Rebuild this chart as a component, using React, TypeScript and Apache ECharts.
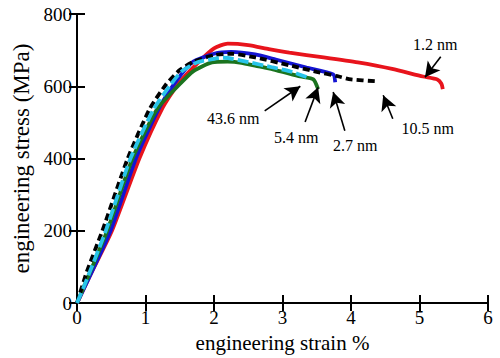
import React, { useEffect, useRef } from "react";
import * as echarts from "echarts";

const red12: [number, number][] = [
  [0, 0], [0.2, 80], [0.51, 200], [0.91, 400], [1.24, 537], [1.47, 605], [1.77, 666],
  [2.0, 705], [2.2, 718], [2.5, 714], [2.8, 703], [3.1, 693], [3.6, 680], [4.1, 666], [4.6, 648],
  [5.05, 627], [5.26, 619], [5.32, 607], [5.34, 592],
];
const blue27: [number, number][] = [
  [0, 0], [0.2, 80], [0.49, 200], [0.86, 400], [1.2, 540], [1.45, 615], [1.68, 666],
  [2.0, 690], [2.25, 695], [2.6, 688], [2.9, 674], [3.35, 652], [3.74, 633], [3.77, 611],
];
const green436: [number, number][] = [
  [0, 0], [0.1, 45], [0.44, 200], [0.81, 400], [1.17, 537], [1.47, 600], [1.7, 642], [1.97, 666],
  [2.2, 668], [2.4, 665], [2.6, 657], [2.86, 647], [3.26, 627], [3.45, 619], [3.52, 592],
];
const black105: [number, number][] = [
  [0, 0], [0.14, 85], [0.37, 200], [0.74, 400], [1.06, 537], [1.3, 605], [1.5, 645], [1.7, 668],
  [2.0, 686], [2.25, 690], [2.6, 680], [3.1, 658], [3.5, 640], [3.8, 628], [4.0, 619], [4.35, 614],
];
const cyan54: [number, number][] = [
  [0, 0], [0.1, 45], [0.42, 200], [0.78, 400], [1.12, 537], [1.35, 600], [1.52, 640], [1.75, 666],
  [2.0, 676], [2.15, 679], [2.5, 667], [2.86, 652], [3.1, 642], [3.36, 625],
];

const labels = ["1.2 nm", "10.5 nm", "2.7 nm", "5.4 nm", "43.6 nm"];
// arrow start/end in data units
const arrowFrom: [number, number][] = [[5.31, 682], [4.61, 510], [3.91, 477], [3.33, 501], [2.74, 532]];
const arrowTo: [number, number][] = [[5.08, 625], [4.47, 575], [3.74, 584], [3.52, 597], [3.26, 600]];
// label anchor in data units
const labelAt: [number, number][] = [[5.23, 715], [5.12, 482], [4.06, 436], [3.2, 458], [2.28, 510]];

const FONT = "Liberation Serif";

export default function App() {
  const ref = useRef<HTMLDivElement>(null);
  useEffect(() => {
    const chart = echarts.init(ref.current!, undefined, { renderer: "svg" });
    const axisCommon = {
      axisLine: { show: true, lineStyle: { color: "#000", width: 2 } },
      axisTick: { show: true, inside: true, length: 8, lineStyle: { color: "#000", width: 2 } },
      splitLine: { show: false },
    };
    const lineSeries = (name: string, data: [number, number][], color: string, type: any, z: number) => ({
      name,
      type: "line",
      data,
      showSymbol: false,
      smooth: 0.2,
      z,
      lineStyle: { color, width: 3.8, type },
    });
    chart.setOption({
      animation: false,
      textStyle: { fontFamily: FONT },
      grid: { left: 77, right: 12, top: 14, bottom: 52 },
      xAxis: [
        {
          type: "value", min: 0, max: 6, interval: 1, position: "bottom",
          ...axisCommon,
          axisLabel: { color: "#000", fontFamily: FONT, fontSize: 19, margin: 5 },
          name: "engineering strain %", nameLocation: "middle", nameGap: 28,
          nameTextStyle: { color: "#000", fontFamily: FONT, fontSize: 21 },
        },
        {
          type: "value", min: 0, max: 6, interval: 1, position: "top",
          ...axisCommon, axisLabel: { show: false },
        },
      ],
      yAxis: [
        {
          type: "value", min: 0, max: 800, interval: 200, position: "left",
          ...axisCommon,
          axisLabel: { color: "#000", fontFamily: FONT, fontSize: 19, margin: 5 },
          name: "engineering stress (MPa)", nameLocation: "middle", nameGap: 39,
          nameTextStyle: { color: "#000", fontFamily: FONT, fontSize: 23 },
        },
        {
          type: "value", min: 0, max: 800, interval: 200, position: "right",
          ...axisCommon, axisLabel: { show: false },
        },
      ],
      series: [
        lineSeries("1.2 nm", red12, "#e8141c", "solid", 2),
        lineSeries("2.7 nm", blue27, "#1414d2", "solid", 3),
        lineSeries("43.6 nm", green436, "#1b741f", "solid", 4),
        lineSeries("10.5 nm", black105, "#000000", [7, 4], 5),
        lineSeries("5.4 nm", cyan54, "#28c4ea", [11, 4], 6),
        {
          type: "line",
          data: [],
          z: 7,
          markLine: {
            silent: true,
            symbol: ["none", "arrow"],
            symbolSize: [12, 15],
            lineStyle: { color: "#000", width: 1.6, type: "solid" },
            label: { show: false },
            data: arrowFrom.map((f, i) => [
              { coord: f },
              { coord: arrowTo[i] },
            ]),
          },
          markPoint: {
            symbol: "circle",
            symbolSize: 0,
            label: {
              show: true,
              color: "#000",
              fontFamily: FONT,
              fontSize: 16,
              formatter: (p: any) => p.name,
            },
            data: labels.map((t, i) => ({ name: t, coord: labelAt[i] })),
          },
        },
      ],
    });
    return () => chart.dispose();
  }, []);
  return <div ref={ref} style={{ width: 500, height: 358, position: "absolute", left: 0, top: 0 }} />;
}
